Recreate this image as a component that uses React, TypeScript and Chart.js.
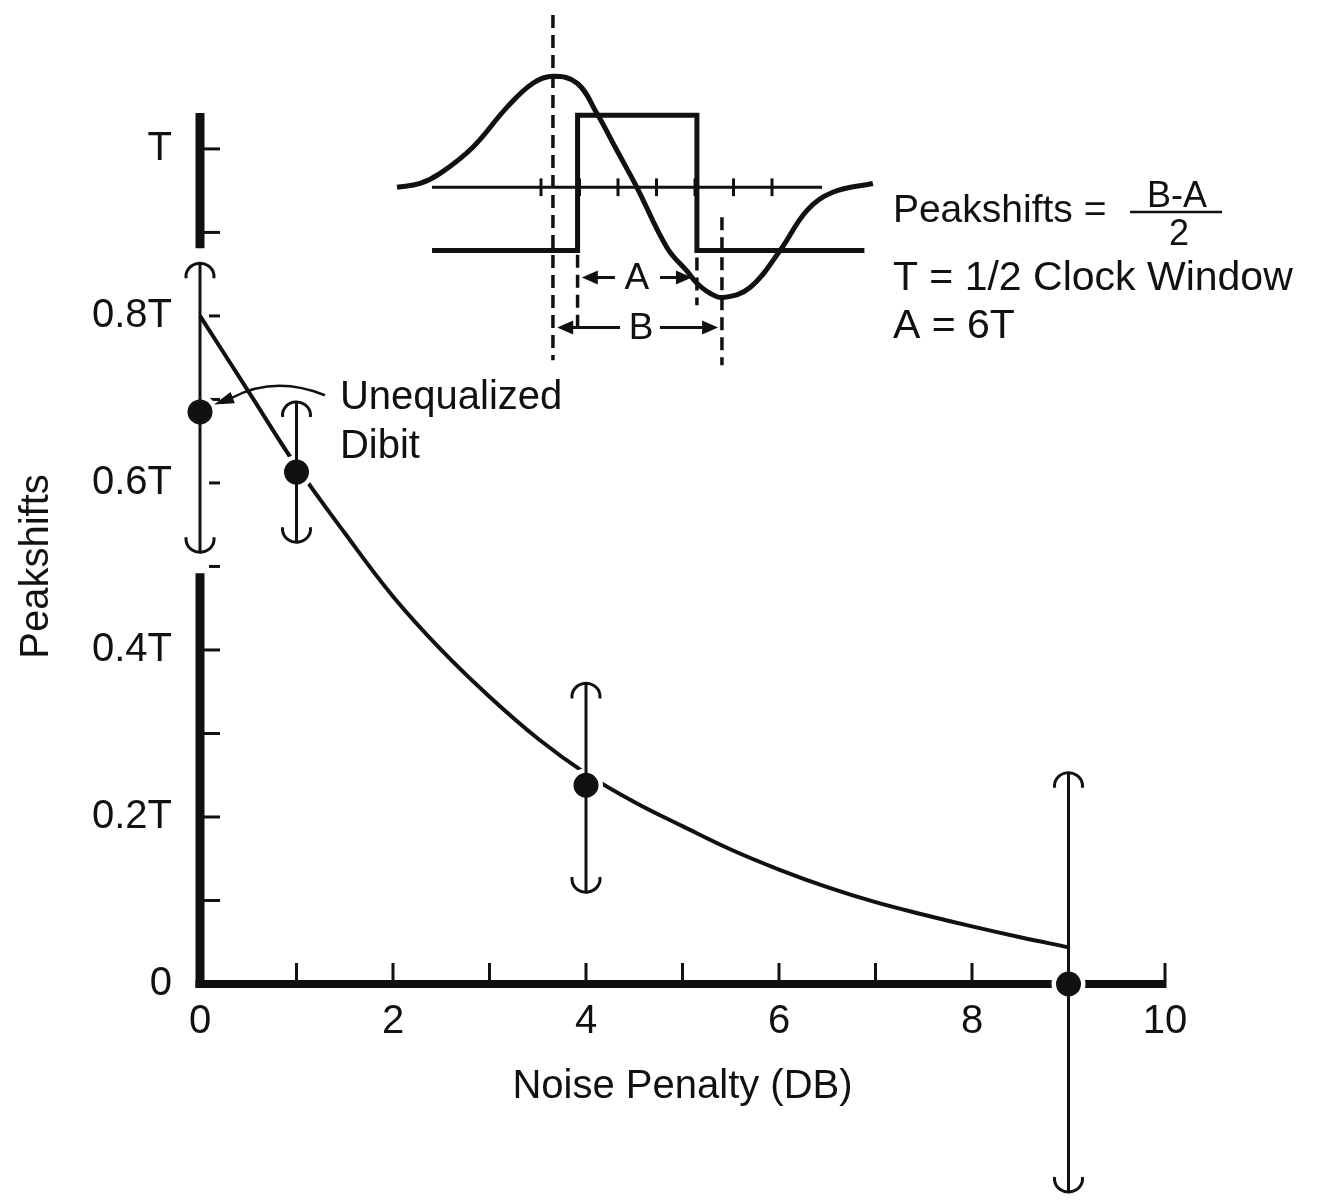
import React, { useEffect, useRef } from 'react';
import { Chart, registerables } from 'chart.js';

Chart.register(...registerables);

const FONT = "'Liberation Sans', Arial, Helvetica, sans-serif";
const INK = '#111';

// ---------- main chart data ----------
const noisePenaltyDB = [0, 1, 4, 9];
const peakshiftMeasured = [0.685, 0.613, 0.238, 0.0];
const peakshiftErrHigh = [0.863, 0.697, 0.36, 0.253];
const peakshiftErrLow = [0.517, 0.529, 0.11, -0.249];
const fitCurveDB = [0, 0.5, 1, 1.5, 2, 2.5, 3, 3.5, 4, 4.5, 5, 5.5, 6, 6.5, 7, 7.5, 8, 8.5, 9];
const fitCurvePeakshift = [0.8, 0.71, 0.62, 0.54, 0.464, 0.4, 0.344, 0.294, 0.252, 0.218, 0.189, 0.161, 0.137, 0.116, 0.098, 0.083, 0.069, 0.056, 0.044];
const xTickValues = [0, 2, 4, 6, 8, 10];
const xTickLabels = ['0', '2', '4', '6', '8', '10'];
const yTickValues = [0, 0.2, 0.4, 0.6, 0.8, 1.0];
const yTickLabels = ['0', '0.2T', '0.4T', '0.6T', '0.8T', 'T'];
const xAxisTitle = 'Noise Penalty (DB)';
const yAxisTitle = 'Peakshifts';
const annotationLines = ['Unequalized', 'Dibit'];

// ---------- inset (dibit / clock window sketch) data ----------
const dibitX = [-3.74, -3.14, -2.62, -1.77, -0.88, -0.21, 0.31, 0.94, 1.45, 1.97, 2.49, 3.27, 3.82, 4.05, 4.39, 4.73, 5.43, 6.21, 6.91, 7.58, 8.62];
const dibitY = [0, 0.1, 0.36, 1.04, 2.08, 2.7, 2.88, 2.7, 1.92, 0.96, 0, -1.56, -2.21, -2.49, -2.75, -2.86, -2.6, -1.64, -0.6, -0.13, 0.1];
const windowX = [-2.83, 0.95, 0.95, 4.05, 4.05, 8.4];
const windowY = [-1.64, -1.64, 1.87, 1.87, -1.64, -1.64];
const baselineX = [-2.83, 7.3];
const baselineTicks = [0, 1, 2, 3, 4, 5, 6];
const dashedX = [0.31, 4.7, 0.95, 4.05];
const dashedTop = [4.47, -0.78, -1.75, -1.82];
const dashedBottom = [-4.49, -4.62, -3.6, -3.06];
const arrowLabels = ['A', 'B'];
const arrowRowY = [-2.34, -3.64];
const arrowLeftTip = [1.06, 0.42];
const arrowLeftEnd = [1.92, 2.05];
const arrowRightStart = [3.09, 3.09];
const arrowRightTip = [3.92, 4.6];
const arrowLabelX = [2.49, 2.6];
const formulaText = ['Peakshifts =', 'B-A', '2', 'T = 1/2 Clock Window', 'A = 6T'];

const findLabel = (vals: number[], labels: string[], v: number) => {
  const i = vals.findIndex((t) => Math.abs(t - v) < 1e-6);
  return i >= 0 ? labels[i] : '';
};

const mainDecor = {
  id: 'mainDecor',
  beforeDatasetsDraw(chart: any) {
    const { ctx, scales } = chart;
    const x = scales.x, y = scales.y;
    const x0 = x.getPixelForValue(0);
    const y0 = y.getPixelForValue(0);
    const gapLo = peakshiftErrLow[0] - 0.025;
    const gapHi = peakshiftErrHigh[0] + 0.018;
    ctx.save();
    ctx.strokeStyle = INK;
    ctx.lineCap = 'butt';
    ctx.lineWidth = 8;
    ctx.beginPath();
    ctx.moveTo(x0 - 4.5, y0);
    ctx.lineTo(x.getPixelForValue(x.max) + 1.5, y0);
    ctx.stroke();
    ctx.lineWidth = 9;
    ctx.beginPath();
    ctx.moveTo(x0, y0 + 4);
    ctx.lineTo(x0, y.getPixelForValue(gapLo));
    ctx.moveTo(x0, y.getPixelForValue(gapHi));
    ctx.lineTo(x0, y.getPixelForValue(y.max));
    ctx.stroke();
    ctx.lineWidth = 3;
    y.ticks.forEach((t: any) => {
      if (t.value <= 0) return;
      const py = y.getPixelForValue(t.value);
      const inGap = t.value > gapLo && t.value < gapHi;
      ctx.beginPath();
      ctx.moveTo(x0 + (inGap ? 9 : 4), py);
      ctx.lineTo(x0 + 20, py);
      ctx.stroke();
    });
    x.ticks.forEach((t: any) => {
      if (t.value <= 0) return;
      const px = x.getPixelForValue(t.value);
      ctx.beginPath();
      ctx.moveTo(px, y0 - 3);
      ctx.lineTo(px, y0 - 21);
      ctx.stroke();
    });
    ctx.restore();
  },
  afterDatasetDraw(chart: any, args: any) {
    if (args.index !== 0) return;
    const { ctx, scales } = chart;
    const x = scales.x, y = scales.y;
    ctx.save();
    ctx.fillStyle = '#fff';
    noisePenaltyDB.forEach((xv, i) => {
      ctx.beginPath();
      ctx.arc(x.getPixelForValue(xv), y.getPixelForValue(peakshiftMeasured[i]), 17, 0, Math.PI * 2);
      ctx.fill();
    });
    ctx.strokeStyle = INK;
    ctx.lineWidth = 3;
    noisePenaltyDB.forEach((xv, i) => {
      const px = x.getPixelForValue(xv);
      const top = y.getPixelForValue(peakshiftErrHigh[i]);
      const bot = y.getPixelForValue(peakshiftErrLow[i]);
      ctx.beginPath();
      ctx.moveTo(px, top);
      ctx.lineTo(px, bot);
      ctx.stroke();
      ctx.beginPath();
      ctx.ellipse(px, top + 13, 14, 13, 0, Math.PI * 0.95, Math.PI * 2.05);
      ctx.stroke();
      ctx.beginPath();
      ctx.ellipse(px, bot - 13, 14, 13, 0, -Math.PI * 0.05, Math.PI * 1.05);
      ctx.stroke();
    });
    ctx.restore();
  },
  afterDraw(chart: any) {
    const { ctx, scales, chartArea } = chart;
    const x = scales.x, y = scales.y;
    const P = (xv: number, yv: number) => [x.getPixelForValue(xv), y.getPixelForValue(yv)];
    ctx.save();
    ctx.fillStyle = INK;
    ctx.strokeStyle = INK;
    ctx.save();
    ctx.translate(chartArea.left - 163, y.getPixelForValue(0.5));
    ctx.rotate(-Math.PI / 2);
    ctx.font = `40px ${FONT}`;
    ctx.textAlign = 'center';
    ctx.textBaseline = 'middle';
    ctx.fillText(yAxisTitle, 0, 0);
    ctx.restore();
    ctx.font = `40px ${FONT}`;
    ctx.textAlign = 'left';
    ctx.textBaseline = 'alphabetic';
    const [tx, ty1] = P(1.45, 0.688);
    const [, ty2] = P(1.45, 0.63);
    ctx.fillText(annotationLines[0], tx, ty1);
    ctx.fillText(annotationLines[1], tx, ty2);
    const [sx, sy] = P(1.295, 0.705);
    const [cx, cy] = P(0.777, 0.729);
    const [ex, ey] = P(0.332, 0.702);
    const [hx, hy] = P(0.145, 0.694);
    ctx.lineWidth = 2.5;
    ctx.beginPath();
    ctx.moveTo(sx, sy);
    ctx.quadraticCurveTo(cx, cy, ex, ey);
    ctx.stroke();
    const ang = Math.atan2(hy - ey, hx - ex);
    const len = 20, hw = 6;
    ctx.beginPath();
    ctx.moveTo(hx, hy);
    ctx.lineTo(hx - len * Math.cos(ang) - hw * Math.sin(ang), hy - len * Math.sin(ang) + hw * Math.cos(ang));
    ctx.lineTo(hx - len * Math.cos(ang) + hw * Math.sin(ang), hy - len * Math.sin(ang) - hw * Math.cos(ang));
    ctx.closePath();
    ctx.fill();
    ctx.restore();
  },
};

const insetDecor = {
  id: 'insetDecor',
  afterDatasetsDraw(chart: any) {
    const { ctx, scales } = chart;
    const X = (v: number) => scales.x.getPixelForValue(v);
    const Y = (v: number) => scales.y.getPixelForValue(v);
    ctx.save();
    ctx.strokeStyle = INK;
    ctx.fillStyle = INK;
    ctx.lineWidth = 3;
    baselineTicks.forEach((t) => {
      ctx.beginPath();
      ctx.moveTo(X(t), Y(0.23));
      ctx.lineTo(X(t), Y(-0.23));
      ctx.stroke();
    });
    const head = (tip: number, ry: number, dir: number) => {
      ctx.beginPath();
      ctx.moveTo(tip, ry);
      ctx.lineTo(tip - dir * 16, ry - 7);
      ctx.lineTo(tip - dir * 16, ry + 7);
      ctx.closePath();
      ctx.fill();
    };
    arrowLabels.forEach((lab, i) => {
      const ry = Y(arrowRowY[i]);
      ctx.lineWidth = 3;
      ctx.beginPath();
      ctx.moveTo(X(arrowLeftTip[i]) + 10, ry);
      ctx.lineTo(X(arrowLeftEnd[i]), ry);
      ctx.moveTo(X(arrowRightStart[i]), ry);
      ctx.lineTo(X(arrowRightTip[i]) - 10, ry);
      ctx.stroke();
      head(X(arrowLeftTip[i]), ry, -1);
      head(X(arrowRightTip[i]), ry, 1);
      ctx.font = `37px ${FONT}`;
      ctx.textAlign = 'center';
      ctx.textBaseline = 'middle';
      ctx.fillText(lab, X(arrowLabelX[i]), ry + 1);
    });
    ctx.textBaseline = 'alphabetic';
    ctx.textAlign = 'left';
    ctx.font = `39px ${FONT}`;
    ctx.fillText(formulaText[0], X(9.14), Y(-0.9));
    ctx.font = `41px ${FONT}`;
    ctx.fillText(formulaText[3], X(9.14), Y(-2.67));
    ctx.fillText(formulaText[4], X(9.14), Y(-3.91));
    ctx.textAlign = 'center';
    ctx.font = `36px ${FONT}`;
    ctx.fillText(formulaText[1], X(16.52), Y(-0.51));
    ctx.fillText(formulaText[2], X(16.57), Y(-1.5));
    ctx.lineWidth = 2.5;
    ctx.beginPath();
    ctx.moveTo(X(15.3), Y(-0.64));
    ctx.lineTo(X(17.69), Y(-0.64));
    ctx.stroke();
    ctx.restore();
  },
};

export default function App() {
  const mainRef = useRef<HTMLCanvasElement>(null);
  const insetRef = useRef<HTMLCanvasElement>(null);

  useEffect(() => {
    Chart.defaults.font.family = FONT;
    Chart.defaults.color = INK;

    const main = new Chart(mainRef.current as HTMLCanvasElement, {
      type: 'line',
      data: {
        datasets: [
          {
            label: 'Fit',
            data: fitCurveDB.map((xv, i) => ({ x: xv, y: fitCurvePeakshift[i] })),
            borderColor: INK,
            borderWidth: 4,
            pointRadius: 0,
            tension: 0.4,
            fill: false,
            order: 2,
            clip: false,
          } as any,
          {
            label: 'Measured',
            data: noisePenaltyDB.map((xv, i) => ({ x: xv, y: peakshiftMeasured[i] })),
            showLine: false,
            backgroundColor: INK,
            borderColor: INK,
            borderWidth: 0,
            pointRadius: 12.5,
            order: 1,
            clip: false,
          } as any,
        ],
      },
      options: {
        responsive: false,
        animation: false,
        layout: { padding: { left: 0, top: 105, right: 150, bottom: 82 } },
        plugins: { legend: { display: false }, tooltip: { enabled: false } },
        scales: {
          x: {
            type: 'linear',
            min: 0,
            max: 10,
            grid: { display: false, drawTicks: false },
            border: { display: false },
            ticks: {
              stepSize: 1,
              autoSkip: false,
              maxRotation: 0,
              padding: 14,
              color: INK,
              font: { size: 40, family: FONT },
              callback: (v: any) => findLabel(xTickValues, xTickLabels, Number(v)),
            },
            title: {
              display: true,
              text: xAxisTitle,
              color: INK,
              font: { size: 40, family: FONT },
              padding: { top: 0, bottom: 3 },
            },
            afterFit: (s: any) => {
              s.height = 130;
            },
          },
          y: {
            type: 'linear',
            min: 0,
            max: 1.043,
            grid: { display: false, drawTicks: false },
            border: { display: false },
            ticks: {
              stepSize: 0.1,
              includeBounds: false,
              autoSkip: false,
              padding: 28,
              color: INK,
              font: { size: 40, family: FONT },
              callback: (v: any) => findLabel(yTickValues, yTickLabels, Number(v)),
            },
            afterFit: (s: any) => {
              s.width = 192;
            },
          },
        },
      } as any,
      plugins: [mainDecor],
    });

    const line = (xs: number[], ys: number[], width: number, extra: any = {}) => ({
      data: xs.map((xv, i) => ({ x: xv, y: ys[i] })),
      borderColor: INK,
      borderWidth: width,
      pointRadius: 0,
      fill: false,
      clip: false,
      tension: 0,
      ...extra,
    });

    const inset = new Chart(insetRef.current as HTMLCanvasElement, {
      type: 'line',
      data: {
        datasets: [
          line(dibitX, dibitY, 5, { tension: 0.4, label: 'Dibit' }),
          line(windowX, windowY, 5, { label: 'Window', borderJoinStyle: 'miter' }),
          line(baselineX, baselineX.map(() => 0), 3, { label: 'Baseline' }),
          ...dashedX.map((dx, i) =>
            line([dx, dx], [dashedTop[i], dashedBottom[i]], 3.5, { borderDash: [13, 7], label: 'Dash ' + i })
          ),
        ] as any,
      },
      options: {
        responsive: false,
        animation: false,
        layout: { padding: 0 },
        plugins: { legend: { display: false }, tooltip: { enabled: false } },
        scales: {
          x: { type: 'linear', display: false, min: -4, max: 20 },
          y: { type: 'linear', display: false, min: -5, max: 4.6 },
        },
      } as any,
      plugins: [insetDecor],
    });

    return () => {
      main.destroy();
      inset.destroy();
    };
  }, []);

  return (
    <div style={{ position: 'relative', width: 1307, height: 1188 }}>
      <canvas
        ref={mainRef}
        width={1307}
        height={1188}
        style={{ position: 'absolute', left: 0, top: 0, width: 1307, height: 1188, display: 'block' }}
      />
      <canvas
        ref={insetRef}
        width={924}
        height={370}
        style={{ position: 'absolute', left: 379, top: 2, width: 924, height: 370, display: 'block' }}
      />
    </div>
  );
}
